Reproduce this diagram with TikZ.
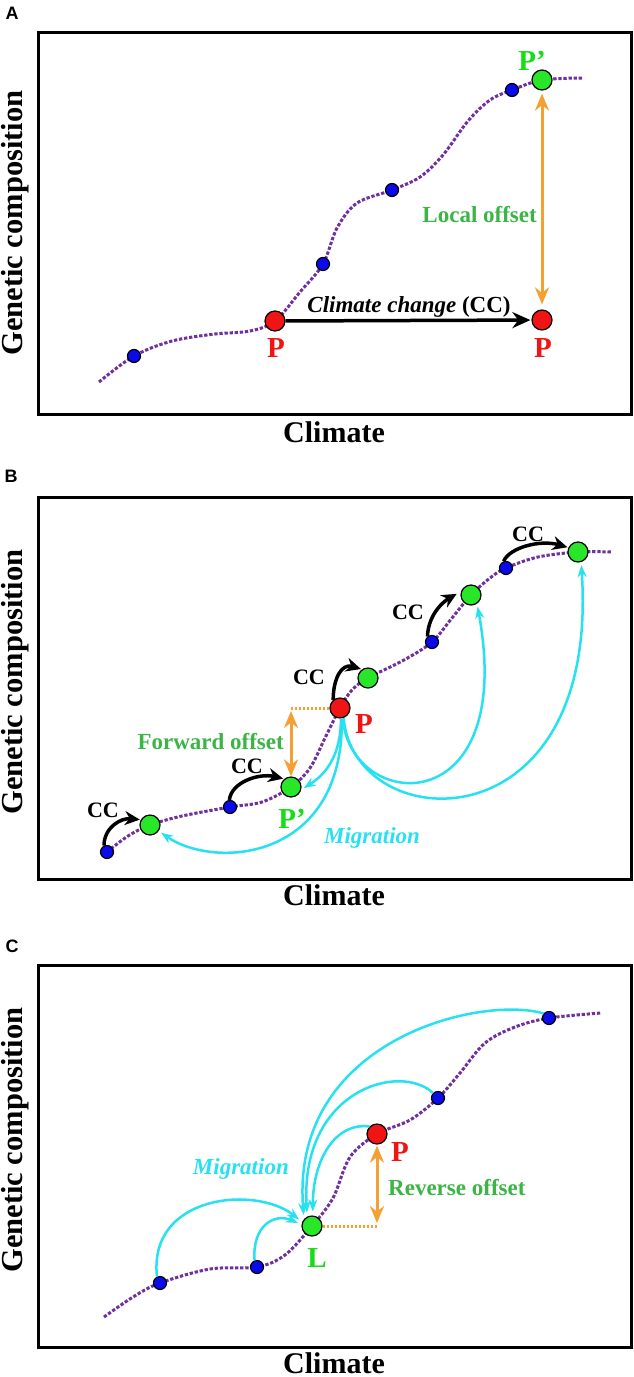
\documentclass[tikz,border=0pt]{standalone}
\usepackage{fontspec}
\setmainfont{Liberation Serif}
\newfontfamily\panelfont{Liberation Sans}
\usetikzlibrary{arrows.meta}
\definecolor{gcline}{RGB}{112,48,160}
\definecolor{dotblue}{RGB}{10,10,235}
\definecolor{dotred}{RGB}{240,20,20}
\definecolor{dotgreen}{RGB}{40,230,40}
\definecolor{labgreen}{RGB}{25,220,25}
\definecolor{txtgreen}{RGB}{60,180,70}
\definecolor{migcyan}{RGB}{40,225,240}
\definecolor{offorange}{RGB}{245,160,50}
\tikzset{
  >={Stealth[length=15pt,width=14pt]},
  panel/.style={line width=3pt},
  gc/.style={draw=gcline,line width=3pt,dash pattern=on 3.3pt off 1.8pt},
  pb/.style={circle,draw,fill=dotblue,minimum size=13pt,inner sep=0pt,line width=1.2pt},
  pr/.style={pb,fill=dotred,minimum size=20pt},
  pg/.style={pb,fill=dotgreen,minimum size=20pt},
  ax/.style={inner sep=0pt,font=\fontsize{30}{36}\selectfont\bfseries},
  yax/.style={ax,rotate=90,font=\fontsize{30.5}{36}\selectfont\bfseries},
  lab/.style={inner sep=0pt,font=\fontsize{29}{34}\selectfont\bfseries},
  tx/.style={inner sep=0pt,font=\fontsize{23}{28}\selectfont\bfseries},
  itx/.style={inner sep=0pt,font=\fontsize{23}{28}\selectfont\bfseries\itshape},
  cct/.style={inner sep=0pt,font=\fontsize{22}{26}\selectfont\bfseries},
  letter/.style={inner sep=0pt,font=\fontsize{18}{20}\selectfont\panelfont\bfseries},
  cc/.style={->,line width=3.5pt,shorten >=1pt},
  mig/.style={->,draw=migcyan,line width=2.5pt,shorten >=3pt,>={Stealth[length=12pt,width=9pt]}},
  offarr/.style={<->,draw=offorange,line width=3pt,>={Stealth[length=17pt,width=14pt]}},
  offdash/.style={draw=offorange,line width=3pt,dash pattern=on 2.5pt off 1.5pt},
}
\begin{document}
\begin{tikzpicture}[x=1pt,y=-1pt]
\useasboundingbox (0,0) rectangle (633,1377);
% A
\node[letter] (la) at (12,13) {A};
\draw[panel] (38,32) rectangle (631,414);
\node[yax] (ya) at (15.5,223) {Genetic composition};
\node[ax,anchor=base] (xa) at (334,442) {Climate};
\draw[gc] plot[smooth,tension=0.55] coordinates {(99,382) (134,356) (172,341) (215,334) (250,331) (275,321) (300,292) (323,264) (337,228) (357,203) (392,190) (420,177) (443,155) (468,121) (490,100) (512,90) (542,80) (582,78)};
\node[pb] (bA1) at (134,356){}; \node[pr] (pA) at (275,321){}; \node[pb] (bA2) at (323,264){};
\node[pb] (bA3) at (392,190){}; \node[pb] (bA4) at (512,90){}; \node[pg] (gA) at (542,80){};
\node[pr] (pA2) at (542,320){};
\node[lab,text=dotred] (tpA) at (276,348){P}; \node[lab,text=dotred] (tpA2) at (543,348){P};
\node[lab,text=labgreen] (tgA) at (532,61){P’};
\draw[cc,>={Stealth[length=18pt,width=16pt]}] (pA) -- (pA2);
\node[tx] (cch) at (409,307){\itshape Climate change\upshape{} (CC)};
\draw[offarr,shorten <=5pt,shorten >=3pt] (pA2) -- (gA);
\node[tx,text=txtgreen,anchor=east] (loc) at (537,215){Local offset};
% B
\node[letter] (lb) at (11,476) {B};
\draw[panel] (38,497) rectangle (631,879);
\node[yax] (yb) at (15.5,682) {Genetic composition};
\node[ax,anchor=base] (xb) at (334,905) {Climate};
\draw[gc] plot[smooth,tension=0.55] coordinates {(107,852) (128,836) (150,825) (182,816) (230,807) (262,802) (291,787) (310,768) (325,738) (340,708) (352,690) (368,678) (404,660) (432,642) (452,618) (471,595) (490,578) (506,568) (538,557) (578,552) (612,552)};
\node[pb] (bB1) at (107,852){}; \node[pg] (gB1) at (150,825){}; \node[pb] (bB2) at (230,807){};
\node[pg] (gBp) at (291,787){}; \node[pr] (pB) at (340,708){}; \node[pg] (gB3) at (368,678){};
\node[pb] (bB4) at (432,642){}; \node[pg] (gB4) at (471,595){}; \node[pb] (bB5) at (506,568){};
\node[pg] (gB5) at (578,552){};
\node[lab,text=dotred] (tpB) at (364,724){P}; \node[lab,text=labgreen] (tgBp) at (292,819){P’};
\coordinate (fo) at (291,708);
\draw[offdash] (pB) -- (fo);
\draw[offarr,shorten <=3pt] (fo) -- (gBp);
\node[tx,text=txtgreen,anchor=east] (fwd) at (284,742){Forward offset};
\draw[cc] (bB1.115) .. controls +(0,-18) and +(-20,-2) .. (gB1.150);
\draw[cc] (bB2.95) .. controls +(2,-18) and +(-25,-6) .. (gBp.130);
\draw[cc] (pB.130) .. controls +(0,-22) and +(-20,-6) .. (gB3.125);
\draw[cc,shorten >=5pt] (bB4.130) .. controls +(1,-25) and +(-14,8) .. (gB4.160);
\draw[cc] (bB5.110) .. controls +(6,-14) and +(-28,-8) .. (gB5.155);
\node[cct] (cc1) at (103,810){CC}; \node[cct] (cc2) at (247,766){CC}; \node[cct] (cc3) at (309,677){CC};
\node[cct] (cc4) at (408,612){CC}; \node[cct] (cc5) at (528,534){CC};
\draw[mig] (pB.-85) .. controls +(0,40) and +(22,-14) .. (gBp.-15);
\draw[mig] (pB.-80) .. controls +(2,142) and +(57,39) .. (gB1.-35);
\draw[mig] (pB.-75) .. controls +(8,95) and +(40,220) .. (gB4.-55);
\draw[mig] (pB.-70) .. controls +(10,120) and +(19,288) .. (gB5.-73);
\node[itx,text=migcyan] (migB) at (372,838){Migration};
% C
\node[letter] (lc) at (12,946) {C};
\draw[panel] (38,965) rectangle (631,1347);
\node[yax] (yc) at (15.5,1140) {Genetic composition};
\node[ax,anchor=base] (xc) at (334,1373) {Climate};
\draw[gc] plot[smooth,tension=0.55] coordinates {(104,1317) (133,1297) (160,1283) (210,1269) (257,1267) (285,1255) (312,1226) (333,1198) (350,1157) (377,1134) (410,1120) (438,1098) (460,1073) (485,1043) (515,1027) (549,1018) (601,1013)};
\node[pb] (bC1) at (160,1283){}; \node[pb] (bC2) at (257,1267){}; \node[pg] (gL) at (312,1226){};
\node[pr] (pC) at (377,1134){}; \node[pb] (bC4) at (438,1098){}; \node[pb] (bC5) at (549,1018){};
\node[lab,text=labgreen] (tgL) at (317,1258){L}; \node[lab,text=dotred] (tpC) at (400,1152){P};
\coordinate (ro) at (377,1226);
\draw[offdash] (gL) -- (ro);
\draw[offarr,shorten <=1pt,shorten >=3pt] (pC) -- (ro);
\node[tx,text=txtgreen,anchor=west] (rev) at (388,1187){Reverse offset};
\draw[mig,shorten >=4pt] (bC1.115) .. controls (148,1195) and (255,1185) .. (gL.157);
\draw[mig,shorten >=4pt] (bC2.110) .. controls (252,1225) and (275,1213) .. (gL.172);
\draw[mig,shorten >=4pt] (pC.135) .. controls (335,1122) and (313,1160) .. (gL.86);
\draw[mig,shorten >=4pt] (bC4.135) .. controls (400,1062) and (300,1090) .. (gL.117);
\draw[mig,shorten >=4pt] (bC5.140) .. controls (480,995) and (290,1040) .. (gL.139);
\node[itx,text=migcyan,anchor=east] (migC) at (289,1169){Migration};
\end{tikzpicture}
\end{document}
